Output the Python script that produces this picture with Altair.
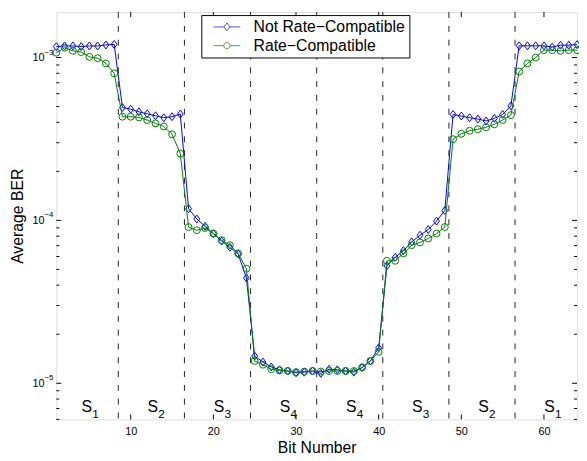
import altair as alt
import pandas as pd

FONT = "Liberation Sans"

bits = list(range(1, 65))
ber_not_rc = [
    1.166e-3, 1.178e-3, 1.178e-3, 1.166e-3, 1.178e-3, 1.178e-3, 1.194e-3, 1.204e-3,
    4.93e-4, 4.82e-4, 4.64e-4, 4.51e-4, 4.39e-4, 4.27e-4, 4.33e-4, 4.50e-4,
    1.18e-4, 1.02e-4, 9.2e-5, 8.3e-5, 7.46e-5, 6.84e-5, 6.22e-5, 4.43e-5,
    1.47e-5, 1.35e-5, 1.26e-5, 1.21e-5, 1.19e-5, 1.16e-5, 1.17e-5, 1.19e-5,
    1.15e-5, 1.22e-5, 1.21e-5, 1.19e-5, 1.17e-5, 1.25e-5, 1.37e-5, 1.65e-5,
    5.26e-5, 5.94e-5, 6.52e-5, 7.38e-5, 8.11e-5, 8.79e-5, 9.9e-5, 1.15e-4,
    4.47e-4, 4.37e-4, 4.27e-4, 4.19e-4, 4.08e-4, 4.23e-4, 4.47e-4, 5.05e-4,
    1.18e-3, 1.18e-3, 1.18e-3, 1.18e-3, 1.16e-3, 1.19e-3, 1.19e-3, 1.20e-3,
]
ber_rc = [
    1.07e-3, 1.15e-3, 1.10e-3, 1.08e-3, 1.01e-3, 0.99e-3, 0.92e-3, 0.80e-3,
    4.33e-4, 4.33e-4, 4.29e-4, 4.13e-4, 3.94e-4, 3.77e-4, 3.38e-4, 2.57e-4,
    9.1e-5, 8.7e-5, 8.98e-5, 8.3e-5, 7.56e-5, 7.05e-5, 6.28e-5, 5.05e-5,
    1.37e-5, 1.30e-5, 1.22e-5, 1.20e-5, 1.19e-5, 1.17e-5, 1.18e-5, 1.19e-5,
    1.18e-5, 1.19e-5, 1.19e-5, 1.19e-5, 1.19e-5, 1.25e-5, 1.37e-5, 1.56e-5,
    5.65e-5, 5.65e-5, 6.28e-5, 7.05e-5, 7.32e-5, 7.75e-5, 8.3e-5, 9.1e-5,
    3.15e-4, 3.40e-4, 3.55e-4, 3.63e-4, 3.73e-4, 3.89e-4, 4.13e-4, 4.43e-4,
    8.2e-4, 9.2e-4, 1.0e-3, 1.11e-3, 1.11e-3, 1.10e-3, 1.11e-3, 1.11e-3,
]
series_names = ["Not Rate\u2212Compatible", "Rate\u2212Compatible"]
series_colors = ["#0000ff", "#008000"]

boundaries = [8.5, 16.5, 24.5, 32.5, 40.5, 48.5, 56.5]
section_centers = [4.5, 12.5, 20.5, 28.5, 36.5, 44.5, 52.5, 60.5]
section_subs = ["1", "2", "3", "4", "4", "3", "2", "1"]

x_ticks = [10, 20, 30, 40, 50, 60]
y_major = [1e-5, 1e-4, 1e-3]
y_major_exp = ["\u22125", "\u22124", "\u22123"]
y_minor = [6e-6, 7e-6, 8e-6, 9e-6,
           2e-5, 3e-5, 4e-5, 5e-5, 6e-5, 7e-5, 8e-5, 9e-5,
           2e-4, 3e-4, 4e-4, 5e-4, 6e-4, 7e-4, 8e-4, 9e-4]

W, H = 528, 413

DIAMOND = "M0,-1L0.75,0L0,1L-0.75,0Z"
LEG_DIAMOND = "M-3.4,0H-0.75M0.75,0H3.4M0,-1L0.75,0L0,1L-0.75,0Z"
LEG_CIRCLE = "M-3.4,0H-0.8M0.8,0H3.4M0.8,0A0.8,0.8,0,1,1,-0.8,0A0.8,0.8,0,1,1,0.8,0Z"

df = pd.DataFrame({
    "bit": bits + bits,
    "ber": ber_not_rc + ber_rc,
    "series": [series_names[0]] * len(bits) + [series_names[1]] * len(bits),
})

xscale = alt.Scale(domain=[1, 64], nice=False, zero=False)
yscale = alt.Scale(type="log", domain=[6e-6, 1.9e-3], nice=False)

xaxis = alt.Axis(values=x_ticks, ticks=False, tickSize=0, domain=False, grid=False,
                 labelFont=FONT, labelFontSize=11, labelColor="black", labelPadding=6,
                 title="Bit Number", titleFont=FONT, titleFontSize=16,
                 titleFontWeight="normal", titleColor="black",
                 titleY=34, titleBaseline="alphabetic")
yaxis = alt.Axis(labels=False, ticks=False, tickSize=0, domain=False, grid=False,
                 title="Average BER", titleFont=FONT, titleFontSize=16,
                 titleFontWeight="normal", titleColor="black",
                 titleX=-34, titleY=H / 2, titleAngle=270,
                 titleBaseline="alphabetic", titleAlign="center")


def X(f):
    return alt.X(f, type="quantitative", scale=xscale, axis=xaxis)


def Y(f):
    return alt.Y(f, type="quantitative", scale=yscale, axis=yaxis)


base = alt.Chart(df)

vlines = alt.Chart(pd.DataFrame({"b": boundaries})).mark_rule(
    color="#222222", strokeWidth=1, strokeDash=[6, 8]).encode(x=X("b"))

line_a = base.transform_filter(alt.datum.series == series_names[0]).mark_line(
    color=series_colors[0], strokeWidth=1).encode(x=X("bit"), y=Y("ber"))
pts_a = base.transform_filter(alt.datum.series == series_names[0]).mark_point(
    shape=DIAMOND, size=64, filled=False, color=series_colors[0], strokeWidth=1,
    opacity=1).encode(x=X("bit"), y=Y("ber"))
line_b = base.transform_filter(alt.datum.series == series_names[1]).mark_line(
    color=series_colors[1], strokeWidth=1).encode(x=X("bit"), y=Y("ber"))
pts_b = base.transform_filter(alt.datum.series == series_names[1]).mark_point(
    shape="circle", size=49, filled=False, color=series_colors[1], strokeWidth=1,
    opacity=1).encode(x=X("bit"), y=Y("ber"))

xt = alt.Chart(pd.DataFrame({"v": x_ticks}))
xt_bottom = xt.mark_rule(color="black").encode(x=X("v"), y=alt.value(H), y2=alt.value(H - 5))
xt_top = xt.mark_rule(color="black").encode(x=X("v"), y=alt.value(0), y2=alt.value(5))
yM = alt.Chart(pd.DataFrame({"v": y_major}))
yM_left = yM.mark_rule(color="black").encode(y=Y("v"), x=alt.value(0), x2=alt.value(5))
yM_right = yM.mark_rule(color="black").encode(y=Y("v"), x=alt.value(W), x2=alt.value(W - 5))
ym = alt.Chart(pd.DataFrame({"v": y_minor}))
ym_left = ym.mark_rule(color="black").encode(y=Y("v"), x=alt.value(0), x2=alt.value(3))
ym_right = ym.mark_rule(color="black").encode(y=Y("v"), x=alt.value(W), x2=alt.value(W - 3))

ylab = alt.Chart(pd.DataFrame({"v": y_major, "e": y_major_exp}))
ylab_base = ylab.mark_text(text="10", align="right", baseline="middle", fontSize=11,
                           font=FONT, color="black", dy=1).encode(y=Y("v"), x=alt.value(-12))
ylab_exp = ylab.mark_text(align="left", baseline="middle", fontSize=8, font=FONT,
                          color="black", dy=-5).encode(y=Y("v"), x=alt.value(-12), text="e:N")

sl = alt.Chart(pd.DataFrame({"c": section_centers, "sub": section_subs}))
s_main = sl.mark_text(text="S", align="center", baseline="alphabetic", fontSize=16,
                      font=FONT, color="black", dx=1.5).encode(x=X("c"), y=alt.value(H - 8))
s_sub = sl.mark_text(align="left", baseline="alphabetic", fontSize=12, font=FONT,
                     color="black", dx=7).encode(x=X("c"), y=alt.value(H - 1), text="sub:N")

legend_props = dict(title=None, orient="none", legendX=147, legendY=3, padding=4,
                    strokeColor="black", fillColor="white", labelFont=FONT,
                    labelFontSize=16, labelColor="black", symbolSize=64,
                    symbolStrokeWidth=1, symbolOffset=14, labelOffset=19,
                    rowPadding=3, cornerRadius=0)

leg = base.transform_filter("false").mark_point(filled=False, strokeWidth=1, size=64).encode(
    x=X("bit"), y=Y("ber"),
    color=alt.Color("series:N", scale=alt.Scale(domain=series_names, range=series_colors),
                    legend=alt.Legend(**legend_props)),
    shape=alt.Shape("series:N", scale=alt.Scale(domain=series_names, range=[LEG_DIAMOND, LEG_CIRCLE]),
                    legend=alt.Legend(**legend_props)),
)

chart = alt.layer(
    vlines, line_a, pts_a, line_b, pts_b,
    xt_bottom, xt_top, yM_left, yM_right, ym_left, ym_right,
    ylab_base, ylab_exp, s_main, s_sub, leg,
).properties(
    width=W, height=H,
    padding={"left": 49, "top": 1, "right": 2, "bottom": 39},
    autosize=alt.AutoSizeParams(type="none"),
    background="white",
).configure_view(stroke="black", strokeWidth=1).configure(font=FONT)

chart.save("out.html", embed_options={"renderer": "svg", "actions": False})
